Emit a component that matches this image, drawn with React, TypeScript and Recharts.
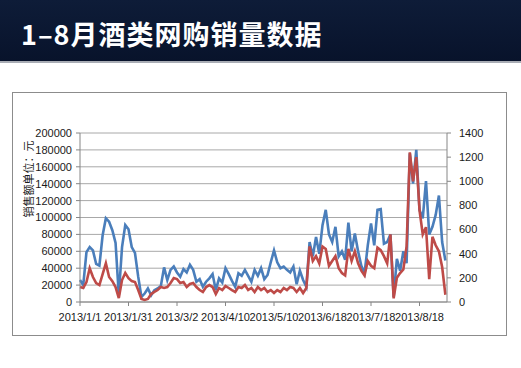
import React from 'react'
import { LineChart, Line, XAxis, YAxis, CartesianGrid } from 'recharts'

// one sample every 2 categories (category index = 2 * position)
const sales = [
  26000, 20000, 59000, 65000, 61000, 45000, 43000, 79000, 99000, 95000,
  85000, 70000, 8000, 65000, 91000, 86000, 65000, 58000, 30000, 6000,
  10000, 16000, 8000, 14000, 16000, 19000, 41000, 26000, 38000, 42000,
  35000, 30000, 39000, 35000, 44000, 38000, 24000, 27000, 18000, 24000,
  28000, 33000, 14000, 28000, 23000, 40000, 33000, 25000, 18000, 34000,
  31000, 38000, 31000, 24000, 38000, 31000, 40000, 27000, 32000, 47000,
  61000, 47000, 40000, 42000, 38000, 35000, 42000, 21000, 37000, 26000,
  18000, 71000, 54000, 77000, 57000, 91000, 109000, 80000, 71000, 89000,
  54000, 60000, 50000, 94000, 60000, 81000, 60000, 43000, 34000, 67000,
  93000, 67000, 109000, 110000, 69000, 71000, 80000, 6000, 51000, 37000,
  60000, 46000, 176000, 140000, 180000, 109000, 99000, 143000, 80000, 89000,
  103000, 126000, 71000, 49000,
]

const volume = [
  124, 116, 165, 280, 207, 157, 140, 231, 320, 207,
  173, 124, 33, 182, 240, 198, 173, 165, 99, 25,
  17, 25, 66, 83, 99, 124, 116, 124, 157, 198,
  190, 157, 165, 124, 149, 157, 124, 99, 83, 124,
  140, 124, 66, 116, 99, 132, 116, 99, 83, 124,
  116, 140, 99, 116, 83, 124, 99, 116, 83, 99,
  74, 99, 83, 116, 99, 124, 116, 83, 116, 74,
  116, 460, 340, 380, 320, 460, 440, 300, 340, 380,
  280, 240, 220, 440, 340, 420, 320, 260, 220, 340,
  300, 280, 450, 430, 380, 320, 560, 30, 200, 240,
  270, 460, 1240, 1000, 1200, 760, 560, 620, 190, 540,
  470, 420, 290, 60,
]

const dayTicks = [0, 30, 60, 90, 120, 150, 180, 210]
const dayLabels = ['2013/1/1', '2013/1/31', '2013/3/2', '2013/4/10', '2013/5/10', '2013/6/18', '2013/7/18', '2013/8/18']
const leftTicks = [0, 20000, 40000, 60000, 80000, 100000, 120000, 140000, 160000, 180000, 200000]
const rightTicks = [0, 200, 400, 600, 800, 1000, 1200, 1400]

const rows = sales.map((v, k) => ({ day: k * 2, sales: v, volume: volume[k] }))

const tickFont = { fill: '#1a1a1a', fontSize: 11, fontFamily: '"Liberation Sans", Arial, sans-serif' }

export default function App() {
  return (
    <div style={{ position: 'absolute', left: 0, top: 0, width: 521, height: 368, background: '#fff', overflow: 'hidden' }}>
      <div
        style={{
          position: 'absolute', left: 0, top: 0, width: 521, height: 61,
          background: 'linear-gradient(180deg, #0e1c38 0%, #08132b 100%)',
          borderBottom: '2px solid #a9adb5',
        }}
      >
        <div
          style={{
            position: 'absolute', left: 21, top: 14, color: '#fff', fontSize: 27, fontWeight: 700,
            lineHeight: '40px', fontFamily: '"Noto Sans CJK SC", "Noto Sans", sans-serif', letterSpacing: 1,
          }}
        >
          1–8月酒类网购销量数据
        </div>
      </div>

      <div style={{ position: 'absolute', left: 12, top: 92, width: 495, height: 244, border: '1px solid #8c8c8c', boxSizing: 'border-box' }} />

      <div
        style={{
          position: 'absolute', left: -22, top: 172, width: 100, height: 14, lineHeight: '14px', textAlign: 'center',
          transform: 'rotate(-90deg)', fontSize: 11, color: '#1a1a1a', fontFamily: '"Noto Sans CJK SC", sans-serif',
        }}
      >
        销售额单位：元
      </div>

      <div style={{ position: 'absolute', left: 0, top: 0 }}>
        <LineChart width={521} height={368} data={rows} margin={{ top: 133, right: 24, bottom: 36, left: 20 }}>
          <CartesianGrid yAxisId="left" vertical={false} stroke="#a8a8a8" />
          <XAxis
            dataKey="day"
            type="number"
            domain={[0, 227]}
            ticks={dayTicks}
            interval={0}
            tickFormatter={(d: number) => dayLabels[dayTicks.indexOf(d)]}
            stroke="#868686"
            tickSize={4}
            tickMargin={7}
            height={30}
            tick={tickFont}
          />
          <YAxis
            yAxisId="left"
            width={60}
            domain={[0, 200000]}
            ticks={leftTicks}
            interval={0}
            stroke="#868686"
            tickSize={4}
            tickMargin={4}
            tick={tickFont}
          />
          <YAxis
            yAxisId="right"
            orientation="right"
            width={50}
            domain={[0, 1400]}
            ticks={rightTicks}
            interval={0}
            stroke="#868686"
            tickSize={4}
            tickMargin={8}
            tick={tickFont}
          />
          <Line yAxisId="left" type="linear" dataKey="sales" stroke="#4a7ebb" strokeWidth={2.6} dot={false} isAnimationActive={false} />
          <Line yAxisId="right" type="linear" dataKey="volume" stroke="#be4b48" strokeWidth={2.6} dot={false} isAnimationActive={false} />
        </LineChart>
      </div>
    </div>
  )
}
